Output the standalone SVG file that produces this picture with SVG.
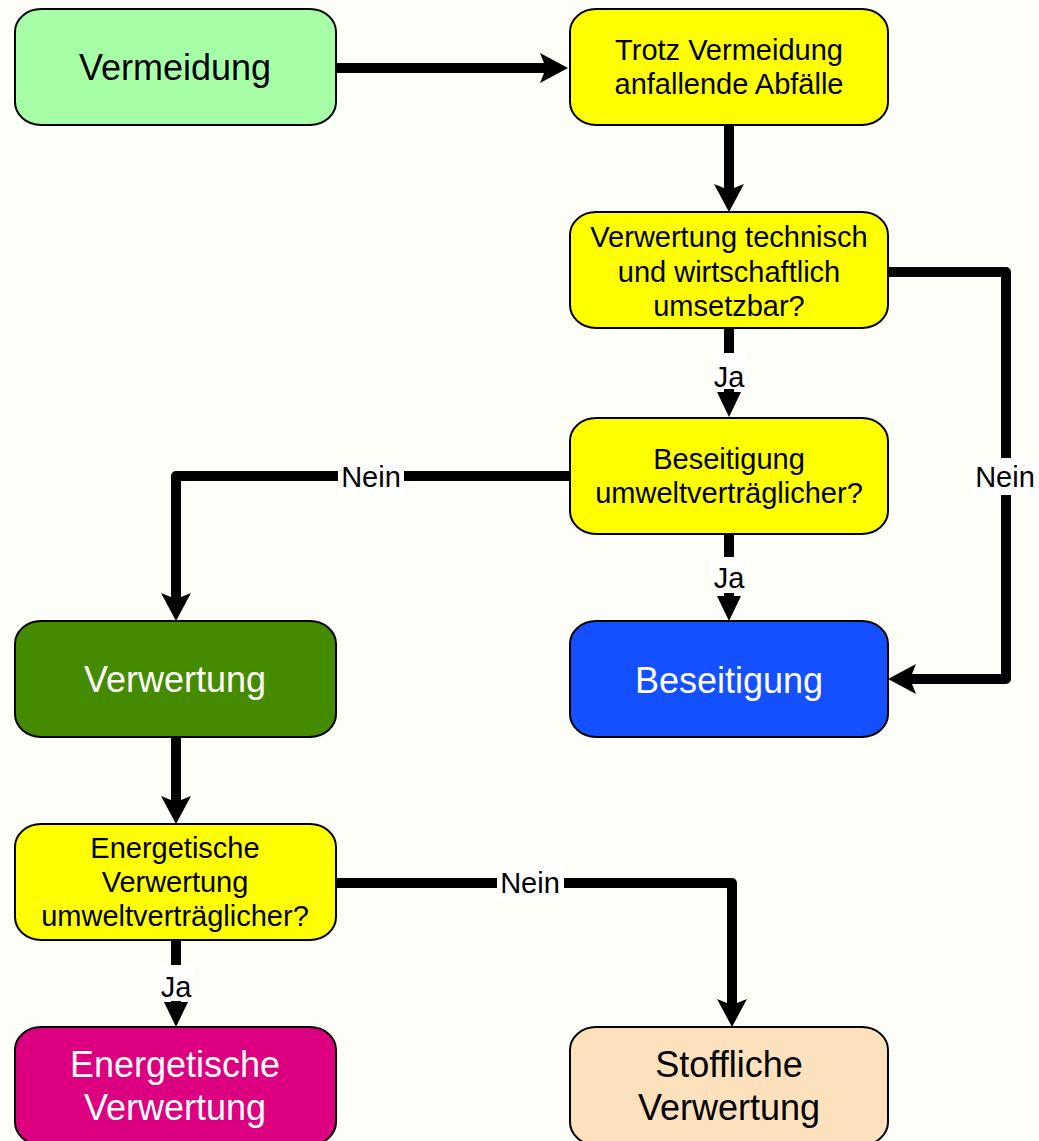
<svg xmlns="http://www.w3.org/2000/svg" width="1039" height="1141" viewBox="0 0 1039 1141">
<style>
.box{stroke:#000;stroke-width:2}
.t{font-family:"Liberation Sans",Arial,sans-serif;font-size:29px;text-anchor:middle;fill:#000}
.big{font-size:36px}
.w{fill:#fff}
.c{fill:none;stroke:#000;stroke-width:10;stroke-linejoin:round}
.lb{fill:#fff}
</style>
<defs>
<marker id="arr" markerUnits="userSpaceOnUse" markerWidth="30" markerHeight="32" refX="10" refY="16" orient="auto" overflow="visible">
<path d="M0,1 L28,16 L0,31 L6,16 z" fill="#000"/>
</marker>
<marker id="tri" markerUnits="userSpaceOnUse" markerWidth="26" markerHeight="26" refX="0" refY="12" orient="auto" overflow="visible">
<path d="M0,0 L25,12 L0,24 z" fill="#000"/>
</marker>
</defs>
<rect width="1039" height="1141" fill="#FEFEF8"/>
<g id="connectors">
<path class="c" d="M336,68 H550" marker-end="url(#arr)"/>
<path class="c" d="M729,125 V194" marker-end="url(#arr)"/>
<path class="c" d="M729,328 V392" marker-end="url(#tri)"/>
<path class="c" d="M888,272 H1006 V679 H906" marker-end="url(#arr)"/>
<path class="c" d="M570,476 H176 V603" marker-end="url(#arr)"/>
<path class="c" d="M729,534 V596" marker-end="url(#tri)"/>
<path class="c" d="M176,737 V806" marker-end="url(#arr)"/>
<path class="c" d="M336,883 H732 V1009" marker-end="url(#arr)"/>
<path class="c" d="M176,940 V1002" marker-end="url(#tri)"/>
<rect class="lb" x="711" y="353" width="35" height="36"/>
<text class="t" x="729" y="387">Ja</text>
<rect class="lb" x="973" y="458" width="66" height="37"/>
<text class="t" x="1005" y="487">Nein</text>
<rect class="lb" x="338" y="458" width="66" height="37"/>
<text class="t" x="371" y="487">Nein</text>
<rect class="lb" x="711" y="557" width="35" height="36"/>
<text class="t" x="729" y="588">Ja</text>
<rect class="lb" x="497" y="865" width="67" height="37"/>
<text class="t" x="530" y="893">Nein</text>
<rect class="lb" x="158" y="965" width="35" height="36"/>
<text class="t" x="176" y="997">Ja</text>
</g>
<g id="n-vermeidung">
<rect class="box" x="15" y="9" width="321" height="116" rx="26" ry="23" fill="#A6FFA6"/>
<text class="t big" x="175" y="80">Vermeidung</text>
</g>
<g id="n-trotz">
<rect class="box" x="570" y="9" width="318" height="116" rx="26" ry="23" fill="#FFFF00"/>
<text class="t" x="729" y="60">Trotz Vermeidung</text>
<text class="t" x="729" y="94">anfallende Abfälle</text>
</g>
<g id="n-verwertung-technisch">
<rect class="box" x="570" y="212" width="318" height="116" rx="26" ry="23" fill="#FFFF00"/>
<text class="t" x="729" y="247">Verwertung technisch</text>
<text class="t" x="729" y="282">und wirtschaftlich</text>
<text class="t" x="729" y="316">umsetzbar?</text>
</g>
<g id="n-beseitigung-umw">
<rect class="box" x="570" y="418" width="318" height="116" rx="26" ry="23" fill="#FFFF00"/>
<text class="t" x="729" y="469">Beseitigung</text>
<text class="t" x="729" y="503">umweltverträglicher?</text>
</g>
<g id="n-verwertung">
<rect class="box" x="15" y="621" width="321" height="116" rx="26" ry="23" fill="#458B00"/>
<text class="t big w" x="175" y="692">Verwertung</text>
</g>
<g id="n-beseitigung">
<rect class="box" x="570" y="621" width="318" height="116" rx="26" ry="23" fill="#1450FF"/>
<text class="t big w" x="729" y="693">Beseitigung</text>
</g>
<g id="n-energetisch-umw">
<rect class="box" x="15" y="824" width="321" height="116" rx="26" ry="23" fill="#FFFF00"/>
<text class="t" x="175" y="858">Energetische</text>
<text class="t" x="175" y="892">Verwertung</text>
<text class="t" x="175" y="926">umweltverträglicher?</text>
</g>
<g id="n-energetische-verwertung">
<rect class="box" x="15" y="1027" width="321" height="118" rx="26" ry="23" fill="#DC0080"/>
<text class="t big w" x="175" y="1077">Energetische</text>
<text class="t big w" x="175" y="1120">Verwertung</text>
</g>
<g id="n-stoffliche-verwertung">
<rect class="box" x="570" y="1027" width="318" height="118" rx="26" ry="23" fill="#FCE1BC"/>
<text class="t big" x="729" y="1077">Stoffliche</text>
<text class="t big" x="729" y="1120">Verwertung</text>
</g>
</svg>
